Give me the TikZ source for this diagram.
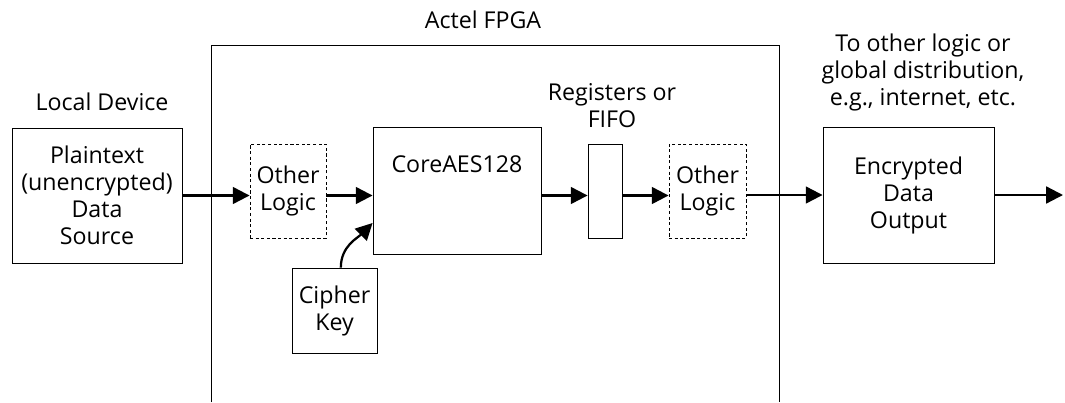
\documentclass[tikz,border=0pt]{standalone}
\usepackage{fontspec}
\setmainfont{Open Sans}
\usetikzlibrary{arrows.meta,positioning,calc}

\begin{document}
\begin{tikzpicture}[x=0.025cm, y=-0.025cm, font=\fontsize{16.5}{19.2}\selectfont, >={Triangle[length=0.42cm,width=0.42cm]}]
\tikzstyle{blk}=[draw, line width=0.6pt, align=center, inner sep=0pt]
\tikzstyle{dblk}=[blk, dash pattern=on 2.2pt off 1.8pt]
\tikzstyle{txt}=[align=center, inner sep=0pt]
\tikzstyle{flow}=[->, line width=1.6pt]
\useasboundingbox (0,0) rectangle (1065,402);
% FPGA frame, open at the bottom
\draw[line width=0.6pt] (211,402) |- (779,45) -- (779,402);
\node[txt] (fpga) at (483,20) {Actel FPGA};
\node[txt] (dev) at (102,102) {Local Device};
\node[txt] (regs) at (612,106) {Registers or\\FIFO};
\node[txt] (dist) at (923,72) {To other logic or\\global distribution,\\e.g., internet, etc.};
\node[blk, minimum width=4.25cm, minimum height=3.375cm] (src) at (97,195.5) {Plaintext\\(unencrypted)\\Data\\Source};
\node[dblk, minimum width=1.9cm, minimum height=2.35cm] (ol1) at (288,191) {Other\\Logic};
\node[blk, minimum width=4.2cm, minimum height=3.175cm, label={[anchor=center, yshift=-0.95cm]north:CoreAES128}] (aes) at (457,190.5) {};
\node[blk, minimum width=2.125cm, minimum height=2.125cm] (key) at (334.5,310.5) {Cipher\\Key};
\node[blk, minimum width=0.85cm, minimum height=2.35cm] (reg) at (605,191) {};
\node[dblk, minimum width=1.925cm, minimum height=2.35cm] (ol2) at (707.5,191) {Other\\Logic};
\node[blk, minimum width=4.275cm, minimum height=3.4cm] (enc) at (908.5,195) {Encrypted\\Data\\Output};
\coordinate (keyin) at ([yshift=-0.8125cm]aes.west);
\coordinate (out) at (1063,195);
\draw[flow] (src.east) -- (src.east -| ol1.west);
\draw[flow] (src.east -| ol1.east) -- (src.east -| aes.west);
\draw[flow] ([xshift=4.5pt]key.north) to[out=90, in=225] (keyin);
\draw[flow] (src.east -| aes.east) -- (src.east -| reg.west);
\draw[flow] (src.east -| reg.east) -- (src.east -| ol2.west);
\draw[flow] (ol2.east |- enc.west) -- (enc.west);
\draw[flow] (enc.east) -- (out);
\end{tikzpicture}
\end{document}
